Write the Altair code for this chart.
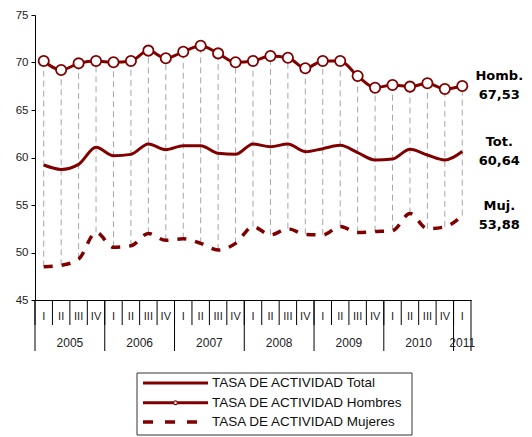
import altair as alt
import pandas as pd

# ---------------- data ----------------
years = [2005] * 4 + [2006] * 4 + [2007] * 4 + [2008] * 4 + [2009] * 4 + [2010] * 4 + [2011]
quarters = ["I", "II", "III", "IV"] * 6 + ["I"]

hombres = [70.16, 69.21, 69.91, 70.16, 70.02, 70.16, 71.25, 70.44, 71.14, 71.77, 70.96, 70.02,
           70.16, 70.68, 70.51, 69.39, 70.16, 70.16, 68.58, 67.35, 67.63, 67.46, 67.81, 67.21, 67.53]
total = [59.21, 58.75, 59.28, 61.07, 60.19, 60.33, 61.42, 60.82, 61.25, 61.25, 60.44, 60.33,
         61.42, 61.14, 61.42, 60.61, 60.93, 61.28, 60.51, 59.74, 59.84, 60.86, 60.26, 59.74, 60.64]
mujeres = [48.51, 48.65, 49.30, 52.12, 50.55, 50.70, 52.00, 51.28, 51.45, 50.96, 50.26, 50.96,
           52.72, 51.85, 52.50, 51.90, 51.85, 52.75, 52.10, 52.20, 52.30, 54.10, 52.50, 52.70, 53.88]

series_names = ["TASA DE ACTIVIDAD Total", "TASA DE ACTIVIDAD Hombres", "TASA DE ACTIVIDAD Mujeres"]
short_names = ["Tot.", "Homb.", "Muj."]
last_values = [total[-1], hombres[-1], mujeres[-1]]

df = pd.DataFrame({
    "idx": list(range(len(years))),
    "year": years,
    "q": quarters,
    "hombres": hombres,
    "total": total,
    "mujeres": mujeres,
})

end_df = pd.DataFrame({
    "idx": [len(years) - 1] * 3,
    "value": last_values,
    "name": short_names,
    "label": [f"{v:.2f}".replace(".", ",") for v in last_values],
})

# ---------------- styling ----------------
RED = "#800000"
W, H = 436, 285
FONT = "Liberation Sans"

xs = alt.Scale(domain=[-0.5, len(years) - 0.5], nice=False, zero=False)
ys = alt.Scale(domain=[45, 75], nice=False, zero=False)
x_axis = alt.Axis(title=None, labels=False, ticks=False, grid=False,
                  domainColor="#000000", domainWidth=1)
y_axis = alt.Axis(title=None, values=[45, 50, 55, 60, 65, 70, 75], grid=False,
                  tickSize=4, tickColor="#000000", domainColor="#000000",
                  labelFont=FONT, labelFontSize=11.5, labelColor="#222222", labelPadding=3)

X = alt.X("idx:Q", scale=xs, axis=x_axis)

base = alt.Chart(df)

drop = base.mark_rule(color="#a6a6a6", strokeDash=[6, 4], strokeWidth=1).encode(
    x=X, y=alt.Y("mujeres:Q", scale=ys, axis=y_axis), y2="hombres:Q")

tot_line = base.mark_line(color=RED, strokeWidth=3, interpolate="monotone").encode(
    x=X, y=alt.Y("total:Q", scale=ys, axis=y_axis))
hom_line = base.mark_line(color=RED, strokeWidth=3, interpolate="monotone").encode(
    x=X, y=alt.Y("hombres:Q", scale=ys, axis=y_axis))
hom_pts = base.mark_point(shape="circle", filled=True, fill="white", stroke=RED,
                          strokeWidth=1.8, size=105, opacity=1).encode(
    x=X, y=alt.Y("hombres:Q", scale=ys, axis=y_axis))
muj_line = base.mark_line(color=RED, strokeWidth=3.5, strokeDash=[9, 9],
                          interpolate="monotone").encode(
    x=X, y=alt.Y("mujeres:Q", scale=ys, axis=y_axis))

# ---- category axis (quarters / years) ----
q_rules = base.transform_calculate(edge="datum.idx - 0.5").mark_rule(
    color="#000000", strokeWidth=1).encode(
    x=alt.X("edge:Q", scale=xs, axis=x_axis), y=alt.value(H), y2=alt.value(H + 25))

year_rules = base.transform_aggregate(lo="min(idx)", groupby=["year"]).transform_calculate(
    edge="datum.lo - 0.5").mark_rule(color="#000000", strokeWidth=1).encode(
    x=alt.X("edge:Q", scale=xs, axis=x_axis), y=alt.value(H), y2=alt.value(H + 51))

end_rule = base.transform_aggregate(hi="max(idx)").transform_calculate(
    edge="datum.hi + 0.5").mark_rule(color="#000000", strokeWidth=1).encode(
    x=alt.X("edge:Q", scale=xs, axis=x_axis), y=alt.value(H), y2=alt.value(H + 51))

q_text = base.mark_text(font=FONT, fontSize=11, color="#222222", baseline="middle").encode(
    x=X, y=alt.value(H + 17), text="q:N")

year_text = base.transform_aggregate(lo="min(idx)", hi="max(idx)", groupby=["year"]).transform_calculate(
    mid="(datum.lo + datum.hi) / 2").mark_text(
    font=FONT, fontSize=12, color="#222222", baseline="middle").encode(
    x=alt.X("mid:Q", scale=xs, axis=x_axis), y=alt.value(H + 43), text="year:N")

# ---- end labels ----
end_base = alt.Chart(end_df)
end_names = end_base.mark_text(font="DejaVu Sans", fontWeight="bold", fontSize=13,
                               color="#000000", dx=37, dy=-9.5, baseline="middle").encode(
    x=alt.X("idx:Q", scale=xs, axis=x_axis), y=alt.Y("value:Q", scale=ys, axis=y_axis), text="name:N")
end_vals = end_base.mark_text(font="DejaVu Sans", fontWeight="bold", fontSize=13,
                              color="#000000", dx=37, dy=9.5, baseline="middle").encode(
    x=alt.X("idx:Q", scale=xs, axis=x_axis), y=alt.Y("value:Q", scale=ys, axis=y_axis), text="label:N")

# ---- legend (drawn below the plot) ----
leg_df = pd.DataFrame({"label": series_names})
leg_base = alt.Chart(leg_df)
row_y = [H + 83, H + 102.7, H + 122]
lx0, lx1, ltx = 108, 173, 177

legend_layers = [
    alt.Chart(pd.DataFrame({"label": ["box"]})).mark_rect(
        fill="white", stroke="#333333", strokeWidth=1).encode(
        x=alt.value(102), x2=alt.value(377), y=alt.value(H + 73), y2=alt.value(H + 135))
]
for i, name in enumerate(series_names):
    row = leg_base.transform_filter(alt.datum.label == name)
    dash = [10, 12] if i == 2 else [1, 0]
    sw = 3.5 if i == 2 else 3
    legend_layers.append(row.mark_rule(color=RED, strokeWidth=sw, strokeDash=dash).encode(
        x=alt.value(lx0), x2=alt.value(lx1), y=alt.value(row_y[i])))
    if i == 1:
        legend_layers.append(row.mark_point(shape="circle", filled=True, fill="white", stroke=RED,
                                            strokeWidth=1.2, size=14, opacity=1).encode(
            x=alt.value((lx0 + lx1) / 2), y=alt.value(row_y[i])))
    legend_layers.append(row.mark_text(font=FONT, fontSize=13.5, color="#111111",
                                       align="left", baseline="middle").encode(
        x=alt.value(ltx), y=alt.value(row_y[i]), text="label:N"))

chart = alt.layer(
    drop, muj_line, tot_line, hom_line, hom_pts,
    q_rules, year_rules, end_rule, q_text, year_text,
    end_names, end_vals, *legend_layers
).properties(
    width=W, height=H,
    autosize=alt.AutoSizeParams(type="none"),
    padding={"left": 27, "top": 7, "right": 53, "bottom": 136},
    background="white",
).configure_view(stroke=None)

chart.save("out.html", embed_options={"renderer": "svg", "actions": False})
